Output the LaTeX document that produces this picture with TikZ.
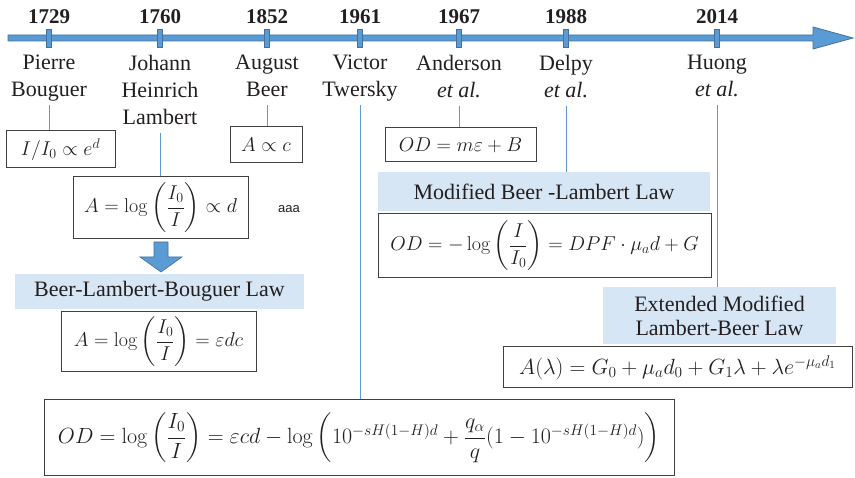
\RequirePackage{fix-cm}
\documentclass[tikz,border=0pt]{standalone}
\usepackage{amsmath}
\usepackage[no-math]{fontspec}
\setmainfont{Liberation Serif}
\newfontfamily\tagfont{Liberation Sans}
\usetikzlibrary{positioning}
\definecolor{tlblue}{HTML}{5B9BD5}
\definecolor{tledge}{HTML}{41719C}
\definecolor{bandblue}{HTML}{D6E6F4}
\definecolor{boxedge}{HTML}{404040}
\definecolor{inkgray}{HTML}{231F20}

\begin{document}
\begin{tikzpicture}[
  x=1pt,y=-1pt,
  tick/.style={draw=tledge, fill=tlblue, line width=0.8pt, minimum width=5pt, minimum height=18pt, inner sep=0pt},
  year/.style={anchor=base, font=\fontsize{21}{24}\selectfont\bfseries, text=inkgray},
  who/.style={anchor=north, align=center, inner sep=0pt, font=\fontsize{22}{27}\selectfont, text=inkgray,
    execute at begin node=\strut, execute at end node=\strut},
  eqbox/.style={draw=boxedge, line width=1pt, inner sep=0pt, font=\fontsize{20}{24}\selectfont, text=inkgray},
  band/.style={fill=bandblue, inner sep=0pt, align=center, font=\fontsize{22}{24}\selectfont, text=inkgray},
  link/.style={draw=tlblue, line width=0.9pt}
]
\useasboundingbox (0,0) rectangle (855,478);

\filldraw[fill=tlblue, draw=tledge, line width=0.8pt]
  (8,35) -- (813,35) -- (813,27) -- (853,38) -- (813,49) -- (813,41) -- (8,41) -- cycle;
\foreach \yr/\xx in {1729/49,1760/160,1852/267,1961/360,1967/459,1988/566,2014/717} {
  \node[tick] (t\yr) at (\xx,38) {};
  \node[year] (y\yr) at (\xx,24) {\yr};
}

\node[who] (n1729) at (49,55) {Pierre\\Bouguer};
\node[who] (n1760) at (160,55) {Johann\\Heinrich\\Lambert};
\node[who] (n1852) at (267,55) {August\\Beer};
\node[who] (n1961) at (360,55) {Victor\\Twersky};
\node[who] (n1967) at (459,55) {Anderson\\\textit{et al.}};
\node[who] (n1988) at (566,55) {Delpy\\\textit{et al.}};
\node[who] (n2014) at (717,55) {Huong\\\textit{et al.}};

\node[eqbox, minimum width=109pt, minimum height=37pt] (eBouguer) at (60.5,149.5) {$I/I_0 \propto e^d$};
\node[eqbox, minimum width=72pt, minimum height=36pt] (eBeer) at (266,145) {$A \propto c$};
\node[eqbox, minimum width=175pt, minimum height=62pt] (eLambert) at (160.5,208) {$A = \log\left(\dfrac{I_0}{I}\right) \propto d$};
\node[font=\tagfont\fontsize{13}{15}\selectfont, text=inkgray] (aaa) at (289,209) {aaa};

\filldraw[fill=tlblue, draw=tledge, line width=0.6pt]
  (154,242) -- (168,242) -- (168,257) -- (182,257) -- (161,272) -- (140,257) -- (154,257) -- cycle;
\node[band, minimum width=289pt, minimum height=35pt] (bBLB) at (159.5,291.5) {Beer-Lambert-Bouguer Law};
\node[eqbox, minimum width=195pt, minimum height=60pt] (eBLB) at (158.5,342) {$A = \log\left(\dfrac{I_0}{I}\right) = \varepsilon d c$};

\node[eqbox, minimum width=151pt, minimum height=34pt] (eAnderson) at (460.5,145) {$OD = m\varepsilon + B$};
\node[band, minimum width=332pt, minimum height=39pt] (bMBL) at (544,191.5) {Modified Beer -Lambert Law};
\node[eqbox, minimum width=333pt, minimum height=64pt] (eMBL) at (544.5,246) {$OD = -\log\left(\dfrac{I}{I_0}\right) = DPF\cdot\mu_a d + G$};
\node[band, minimum width=233pt, minimum height=57pt] (bEMBL) at (719.5,315.5) {Extended Modified\\Lambert-Beer Law};
\node[eqbox, minimum width=349pt, minimum height=41pt, font=\fontsize{22}{26}\selectfont] (eEMBL) at (677.5,367.5) {$A(\lambda) = G_0 + \mu_a d_0 + G_1\lambda + \lambda e^{-\mu_a d_1}$};
\node[eqbox, minimum width=630pt, minimum height=76pt, font=\fontsize{22}{26}\selectfont] (eTwersky) at (359,438) {$OD = \log\left(\dfrac{I_0}{I}\right) = \varepsilon c d - \log\left(10^{-sH(1-H)d} + \dfrac{q_\alpha}{q}(1-10^{-sH(1-H)d})\right)$};

\draw[link] (n1729.south) -- (n1729.south |- eBouguer.north);
\draw[link] (n1760.south) -- (n1760.south |- eLambert.north);
\draw[link] (n1852.south) -- (n1852.south |- eBeer.north);
\draw[link] (n1961.south) -- (n1961.south |- eTwersky.north);
\draw[link] (n1967.south) -- (n1967.south |- eAnderson.north);
\draw[link] (n1988.south) -- (n1988.south |- bMBL.north);
\draw[link] (n2014.south) -- (n2014.south |- bEMBL.north);
\end{tikzpicture}
\end{document}
